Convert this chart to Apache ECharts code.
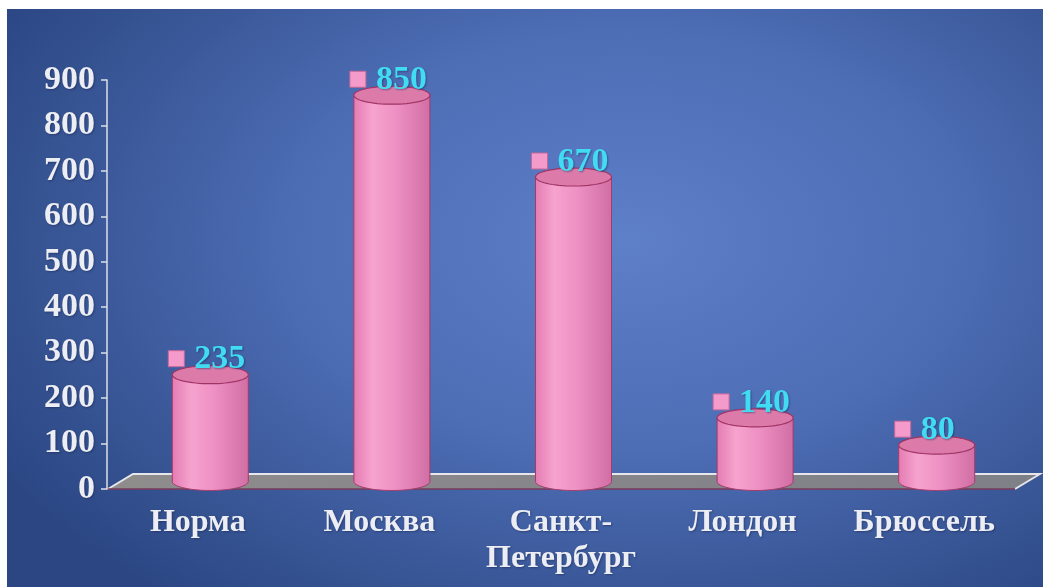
<!DOCTYPE html>
<html>
<head>
<meta charset="utf-8">
<title>Показатели по городам</title>
<script src="https://cdn.jsdelivr.net/npm/echarts/dist/echarts.min.js"></script>
<style>
  html, body { margin: 0; padding: 0; background: #ffffff; }
  #wrap { position: relative; width: 1043px; height: 587px; overflow: hidden; }
  #bg {
    position: absolute; left: 7px; top: 9px; right: 0; bottom: 0;
    background: radial-gradient(ellipse 70% 80% at 60% 40%, #5e80c9 0%, #4d6db5 45%, #34518f 85%, #2c4684 100%);
  }
  #chart { position: absolute; left: 0; top: 0; width: 1043px; height: 587px; }
</style>
</head>
<body>
<div id="wrap">
  <div id="bg"></div>
  <div id="chart"></div>
</div>
<script>
// Categories and values
const categories = ['Норма', 'Москва', 'Санкт-\nПетербург', 'Лондон', 'Брюссель'];
const values = [235, 850, 670, 140, 80];

// Value axis range
const yMin = 0;
const yMax = 900;
const yStep = 100;

// Pseudo-3D floor depth (pixels) and cylinder geometry
const DEPTH_X = 25;
const DEPTH_Y = -15;
const CYL_RX = 38;
const CYL_RY = 9;

const serif = '"Liberation Serif", "Times New Roman", serif';

function arcPoints(cx, cy, rx, ry, a0, a1, n) {
  const pts = [];
  for (let k = 0; k <= n; k++) {
    const a = a0 + (a1 - a0) * k / n;
    pts.push([cx + rx * Math.cos(a), cy + ry * Math.sin(a)]);
  }
  return pts;
}

// Grey floor plane under the cylinders, built from the grid rectangle
function renderFloor(params, api) {
  const cs = params.coordSys;
  const x0 = cs.x, x1 = cs.x + cs.width;
  const y0 = api.coord([0, 0])[1];
  const pts = [
    [x0 + 1, y0],
    [x0 + 1 + DEPTH_X, y0 + DEPTH_Y],
    [x1 + DEPTH_X, y0 + DEPTH_Y],
    [x1, y0]
  ];
  return {
    type: 'group',
    children: [
      {
        type: 'polygon',
        shape: { points: pts },
        style: {
          fill: new echarts.graphic.LinearGradient(0, 0, 1, 0, [
            { offset: 0, color: '#8f8c8c' },
            { offset: 0.5, color: '#86858a' },
            { offset: 1, color: '#7e8088' }
          ]),
          stroke: null
        }
      },
      {
        type: 'polyline',
        shape: { points: [pts[0], pts[1], pts[2], pts[3]] },
        style: { stroke: '#e6e6ec', lineWidth: 2, fill: null }
      },
      {
        type: 'line',
        shape: { x1: pts[0][0], y1: pts[0][1], x2: pts[3][0], y2: pts[3][1] },
        style: { stroke: '#7a3a5a', lineWidth: 1.5 }
      }
    ]
  };
}

// Pink cylinder with a value tag (square key + number)
function renderCylinder(params, api) {
  const i = api.value(0);
  const v = api.value(1);
  const top = api.coord([i, v]);
  const base = api.coord([i, 0]);
  const cx = top[0] + DEPTH_X / 2;
  const ty = top[1] + DEPTH_Y / 2;
  const by = base[1] + DEPTH_Y / 2;

  const body = [[cx - CYL_RX, ty]]
    .concat(arcPoints(cx, by, CYL_RX, CYL_RY, Math.PI, 0, 40))
    .concat([[cx + CYL_RX, ty]]);
  const cap = arcPoints(cx, ty, CYL_RX, CYL_RY, 0, Math.PI * 2, 64);

  const labelY = ty - 16;
  return {
    type: 'group',
    children: [
      {
        type: 'polygon',
        shape: { points: body },
        style: {
          fill: new echarts.graphic.LinearGradient(0, 0, 1, 0, [
            { offset: 0, color: '#e47bb2' },
            { offset: 0.25, color: '#f6a3cf' },
            { offset: 0.55, color: '#ee90c3' },
            { offset: 1, color: '#d06ea4' }
          ]),
          stroke: '#a53a6c',
          lineWidth: 1
        }
      },
      {
        type: 'polygon',
        shape: { points: cap },
        style: { fill: '#dc7ba9', stroke: '#a03565', lineWidth: 1.2 }
      },
      {
        type: 'rect',
        shape: { x: cx - 42, y: labelY - 8, width: 16, height: 16 },
        style: { fill: '#f59bcb', stroke: '#c7689a', lineWidth: 1 }
      },
      {
        type: 'text',
        x: cx - 16,
        y: labelY + 1,
        style: {
          text: String(v),
          fill: '#42dcf2',
          font: 'bold 34px ' + serif,
          align: 'left',
          verticalAlign: 'middle',
          textShadowColor: 'rgba(20,40,90,0.5)',
          textShadowBlur: 2,
          textShadowOffsetX: 1,
          textShadowOffsetY: 1
        }
      }
    ]
  };
}

const chart = echarts.init(document.getElementById('chart'), null, { renderer: 'canvas' });

const labelColor = '#eceef4';

chart.setOption({
  backgroundColor: 'transparent',
  animation: false,
  grid: { left: 107, right: 28, top: 80, bottom: 98, containLabel: false },
  xAxis: {
    type: 'category',
    data: categories,
    axisLine: { show: false },
    axisTick: { show: false },
    axisLabel: {
      color: labelColor,
      fontFamily: serif,
      fontWeight: 'bold',
      fontSize: 32,
      lineHeight: 36,
      margin: 16,
      interval: 0,
      textShadowColor: 'rgba(20,30,70,0.45)',
      textShadowBlur: 2,
      textShadowOffsetX: 1,
      textShadowOffsetY: 1
    }
  },
  yAxis: {
    type: 'value',
    min: yMin,
    max: yMax,
    interval: yStep,
    axisLine: { show: true, lineStyle: { color: '#dcdfe8', width: 1.5 } },
    axisTick: { show: true, length: 6, lineStyle: { color: '#dcdfe8', width: 1.5 } },
    splitLine: { show: false },
    axisLabel: {
      color: labelColor,
      fontFamily: serif,
      fontWeight: 'bold',
      fontSize: 34,
      margin: 12,
      textShadowColor: 'rgba(20,30,70,0.45)',
      textShadowBlur: 2,
      textShadowOffsetX: 1,
      textShadowOffsetY: 1
    }
  },
  series: [
    {
      type: 'custom',
      name: 'floor',
      renderItem: renderFloor,
      data: [[0, 0]],
      silent: true,
      z: 1
    },
    {
      type: 'custom',
      name: 'values',
      renderItem: renderCylinder,
      data: values.map((v, i) => [i, v]),
      encode: { x: 0, y: 1 },
      z: 2
    }
  ]
});
</script>
</body>
</html>
